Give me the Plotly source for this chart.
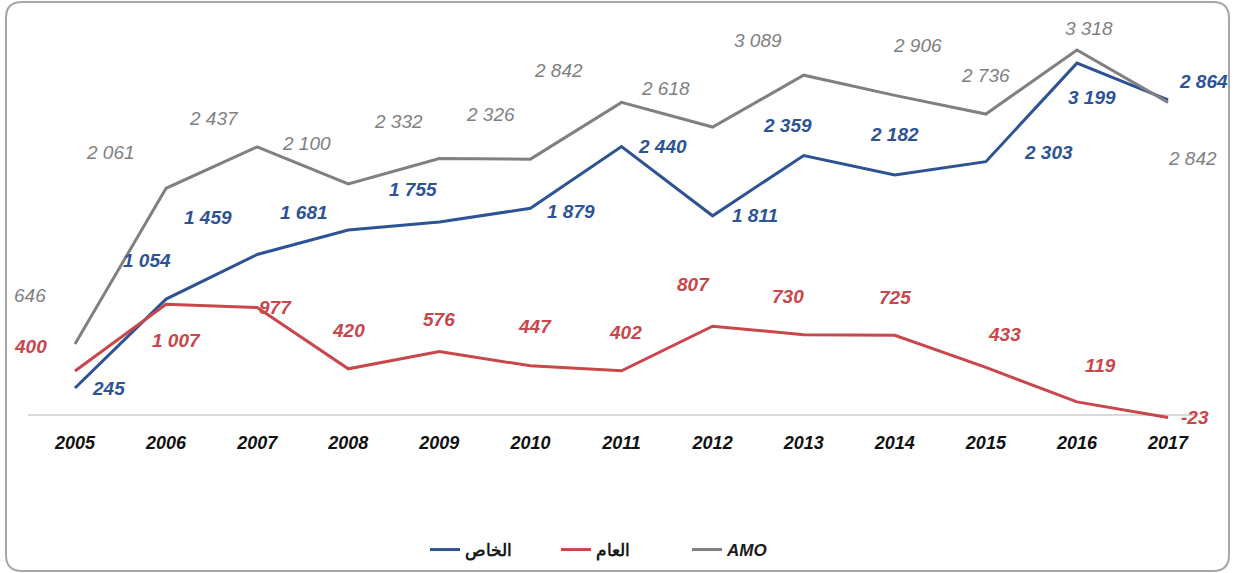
import plotly.graph_objects as go

years = ["2005", "2006", "2007", "2008", "2009", "2010", "2011", "2012", "2013", "2014", "2015", "2016", "2017"]
private = [245, 1054, 1459, 1681, 1755, 1879, 2440, 1811, 2359, 2182, 2303, 3199, 2864]
public = [400, 1007, 977, 420, 576, 447, 402, 807, 730, 725, 433, 119, -23]
amo = [646, 2061, 2437, 2100, 2332, 2326, 2842, 2618, 3089, 2906, 2736, 3318, 2842]

names = {"private": "<b>الخاص</b>", "public": "<b>العام</b>", "amo": "<b><i>AMO</i></b>"}
colors = {"private": "#2e5395", "public": "#c9464b", "amo": "#808080"}
label_colors = {"private": "#2e5395", "public": "#c9464b", "amo": "#7f7f7f"}

# label offsets in pixels (dx, dy-down)
offsets = {
    "amo": [(-45, -48), (-56, -36), (-43, -28), (-42, -41), (-41, -37), (-40, -45), (-63, -32),
            (-47, -39), (-46, -35), (23, -50), (0, -39), (12, -22), (24, 56)],
    "private": [(33, 0), (-19, -39), (-49, -37), (-44, -18), (-26, -32), (41, 3), (41, 0),
                (42, 0), (-16, -30), (0, -40), (63, -9), (15, 34), (35, -18)],
    "public": [(-45, -25), (10, 36), (18, 0), (0, -38), (0, -32), (5, -39), (4, -38),
               (-19, -42), (-16, -38), (0, -38), (19, -33), (24, -36), (27, 0)],
}

FONT = "Liberation Sans, Arial, sans-serif"


def fmt(v):
    s = f"{abs(v):,}".replace(",", " ")
    return ("-" if v < 0 else "") + s


xs = list(range(len(years)))
fig = go.Figure()
series = [("private", private), ("public", public), ("amo", amo)]
for key, vals in series:
    fig.add_trace(go.Scatter(
        x=xs, y=vals, mode="lines", name=names[key],
        line=dict(color=colors[key], width=3),
        hoverinfo="skip",
    ))

annotations = []
for key, vals in series:
    for i, v in enumerate(vals):
        dx, dy = offsets[key][i]
        txt = fmt(v)
        if key == "amo":
            t = f"<i>{txt}</i>"
        else:
            t = f"<b><i>{txt}</i></b>"
        annotations.append(dict(
            x=xs[i], y=v, xref="x", yref="y", text=t, showarrow=False,
            xshift=dx, yshift=-dy,
            font=dict(family=FONT, size=19, color=label_colors[key]),
        ))

# rounded border (paper coords based on plot area 28..1195 x, 20..420 y)
def px(x):
    return (x - 28) / 1167.0


def py(y):
    return (420 - y) / 400.0


L, R, T, B, r = 6, 1229, 2, 571, 16
path = (f"M {px(L + r)},{py(T)} L {px(R - r)},{py(T)} Q {px(R)},{py(T)} {px(R)},{py(T + r)} "
        f"L {px(R)},{py(B - r)} Q {px(R)},{py(B)} {px(R - r)},{py(B)} "
        f"L {px(L + r)},{py(B)} Q {px(L)},{py(B)} {px(L)},{py(B - r)} "
        f"L {px(L)},{py(T + r)} Q {px(L)},{py(T)} {px(L + r)},{py(T)} Z")

fig.update_layout(
    width=1234, height=573,
    margin=dict(l=28, r=39, t=20, b=153, autoexpand=False),
    paper_bgcolor="white", plot_bgcolor="white",
    showlegend=True,
    legend=dict(orientation="h", x=px(425), xanchor="left", y=py(550), yanchor="middle",
                font=dict(family=FONT, size=17, color="#1a1a1a"),
                itemwidth=30, traceorder="normal",
                entrywidth=86, entrywidthmode="pixels"),
    annotations=annotations,
    shapes=[dict(type="path", xref="paper", yref="paper", path=path,
                 line=dict(color="#a6a6a6", width=2), layer="below")],
    font=dict(family=FONT),
)
fig.update_xaxes(
    range=[-0.516, 12.296], tickmode="array", tickvals=xs,
    ticktext=[f"<b><i>{y}</i></b>" for y in years],
    tickfont=dict(family=FONT, size=18, color="#111111"),
    showgrid=False, zeroline=False, showline=False, ticks="",
    ticklabelstandoff=10, fixedrange=True,
)
fig.update_yaxes(
    range=[-5 / 0.110, 400 / 0.110 - 5 / 0.110], showgrid=False, zeroline=True,
    zerolinecolor="#d9d9d9", zerolinewidth=2, showticklabels=False,
    showline=False, ticks="", fixedrange=True,
)

fig.write_html("out.html", config={"displayModeBar": False},
               post_script="document.body.style.margin='0';")
